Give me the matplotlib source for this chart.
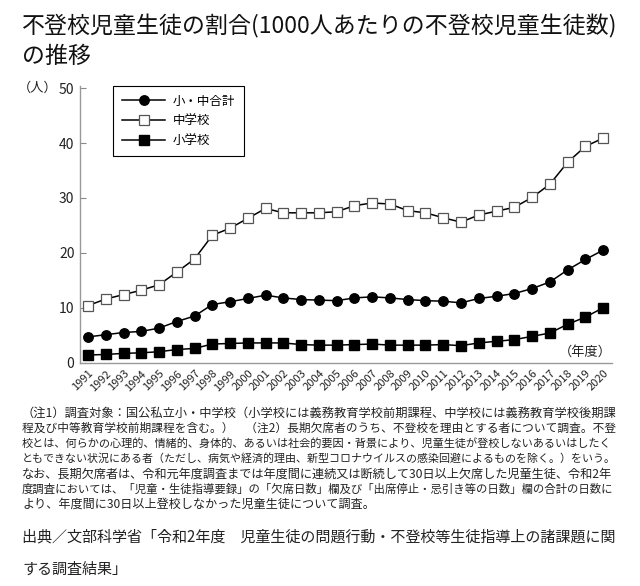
import matplotlib
matplotlib.use('Agg')
from matplotlib import pyplot as plt

plt.rcParams['font.family'] = ['Noto Sans CJK JP', 'DejaVu Sans']

# データ（1000人あたりの不登校児童生徒数）
years = list(range(1991, 2021))
total = [4.7, 5.1, 5.5, 5.7, 6.3, 7.5, 8.5, 10.6, 11.1, 11.7, 12.3, 11.8, 11.5, 11.4, 11.3,
         11.8, 12.0, 11.8, 11.5, 11.3, 11.2, 10.9, 11.7, 12.1, 12.6, 13.5, 14.7, 16.9, 18.8, 20.5]
junior = [10.4, 11.6, 12.4, 13.2, 14.2, 16.5, 18.9, 23.2, 24.5, 26.3, 28.1, 27.3, 27.3, 27.3, 27.5,
          28.6, 29.1, 28.9, 27.7, 27.3, 26.4, 25.6, 26.9, 27.6, 28.3, 30.1, 32.5, 36.5, 39.4, 40.9]
elementary = [1.4, 1.5, 1.7, 1.8, 2.0, 2.4, 2.6, 3.4, 3.5, 3.6, 3.6, 3.6, 3.3, 3.2, 3.2,
              3.3, 3.4, 3.2, 3.2, 3.2, 3.3, 3.1, 3.6, 3.9, 4.2, 4.8, 5.4, 7.0, 8.3, 10.0]
labels = ['小・中合計', '中学校', '小学校']

title = ['不登校児童生徒の割合(1000人あたりの不登校児童生徒数)', 'の推移']
notes = [
    '（注1）調査対象：国公私立小・中学校（小学校には義務教育学校前期課程、中学校には義務教育学校後期課',
    '程及び中等教育学校前期課程を含む。）　（注2）長期欠席者のうち、不登校を理由とする者について調査。不登',
    '校とは、何らかの心理的、情緒的、身体的、あるいは社会的要因・背景により、児童生徒が登校しないあるいはしたく',
    'ともできない状況にある者（ただし、病気や経済的理由、新型コロナウイルスの感染回避によるものを除く。）をいう。',
    'なお、長期欠席者は、令和元年度調査までは年度間に連続又は断続して30日以上欠席した児童生徒、令和2年',
    '度調査においては、「児童・生徒指導要録」の「欠席日数」欄及び「出席停止・忌引き等の日数」欄の合計の日数に',
    'より、年度間に30日以上登校しなかった児童生徒について調査。',
]
source = ['出典／文部科学省「令和2年度　児童生徒の問題行動・不登校等生徒指導上の諸課題に関',
          'する調査結果」']

fig = plt.figure(figsize=(6.4, 5.86), dpi=100)
W, H = 640, 586
ax = fig.add_axes([80 / W, 1 - 362.7 / H, 532 / W, 276.7 / H])

ax.plot(years, total, color='black', lw=1.1, marker='o', ms=6.8,
        mfc='black', mec='black', label=labels[0], zorder=3)
ax.plot(years, junior, color='black', lw=1.1, marker='s', ms=7.0,
        mfc='white', mec='#555555', mew=0.9, label=labels[1], zorder=3)
ax.plot(years, elementary, color='black', lw=1.1, marker='s', ms=6.8,
        mfc='black', mec='black', label=labels[2], zorder=3)

ax.set_xlim(1990.55, 2020.5)
ax.set_ylim(0, 50.4)
ax.set_yticks([0, 10, 20, 30, 40, 50])
ax.set_xticks(years)
ax.set_xticklabels([str(y) for y in years], rotation=45, ha='right', va='top',
                   rotation_mode='anchor', fontsize=8, color='#222222')
ax.tick_params(axis='x', length=0, pad=4)
ax.tick_params(axis='y', direction='in', length=4, width=0.8, color='#888888',
               labelsize=10, labelcolor='#222222', pad=4)
for s in ['top', 'right']:
    ax.spines[s].set_visible(False)
for s in ['left', 'bottom']:
    ax.spines[s].set_color('#999999')
    ax.spines[s].set_linewidth(1.0)

leg = ax.legend(loc='upper left', bbox_to_anchor=(0.062, 1.0), fontsize=9,
                frameon=True, fancybox=False, edgecolor='black', framealpha=1,
                handlelength=3.5, handletextpad=0.6, borderpad=0.7,
                labelspacing=0.55, borderaxespad=0)
leg.get_frame().set_linewidth(0.8)

ax.text(1.0, 0.015, '（年度）', transform=ax.transAxes, ha='right', va='bottom',
        fontsize=9.5, color='#222222')
fig.text(58 / W, 1 - 88 / H, '（人）', ha='right', va='center', fontsize=9.5, color='#222222')

renderer = fig.canvas.get_renderer()


def fit_text(x, y, s, size, width, fill=True):
    # 1行を指定幅に収める（fill=Trueなら幅いっぱいまで拡大）
    t = fig.text(x / W, 1 - y / H, s, ha='left', va='center', fontsize=size, color='#222222')
    w = t.get_window_extent(renderer).width
    if w > width or fill:
        t.set_fontsize(size * width / w)
    return t


fit_text(22, 26, title[0], 15, 595)
fig.texts[-1].set_color('#111111')
t2 = fig.text(22 / W, 1 - 56 / H, title[1], ha='left', va='center',
              fontsize=fig.texts[-1].get_fontsize(), color='#111111')

y0 = 413
for i, line in enumerate(notes):
    fit_text(22, y0 + i * 15.2, line, 8.7, 594, fill=(i < len(notes) - 1))
fit_text(22, 537, source[0], 11, 595)
fig.text(22 / W, 1 - 569 / H, source[1], ha='left', va='center',
         fontsize=fig.texts[-1].get_fontsize(), color='#222222')

fig.savefig('out.png', dpi=100)
